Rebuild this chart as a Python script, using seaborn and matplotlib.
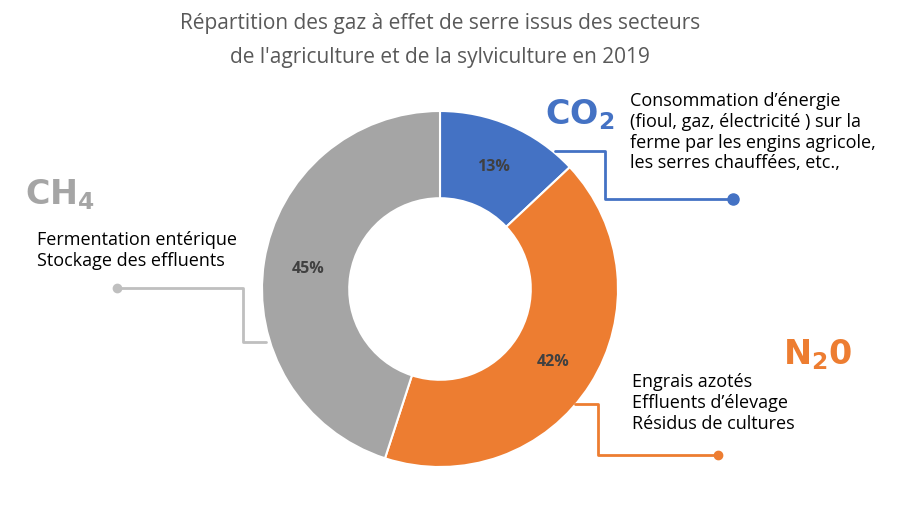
import matplotlib
matplotlib.use("Agg")
import matplotlib.pyplot as plt
import seaborn as sns
import numpy as np
from matplotlib.lines import Line2D

gases = ["CO2", "N2O", "CH4"]
shares = [13, 42, 45]
colors = ["#4472C4", "#ED7D31", "#A5A5A5"]

sns.set_theme(style="white")
plt.rcParams['font.family'] = ['Open Sans', 'DejaVu Sans']

W, H = 900, 506
fig = plt.figure(figsize=(9, 5.06), dpi=100)

def fx(x):
    return x / W

def fy(y):
    return 1 - y / H

# donut
cx, cy, r = 440, 290, 178
ax = fig.add_axes([fx(cx - r), fy(cy + r), 2 * r / W, 2 * r / H])
wedges, texts = ax.pie(shares, colors=colors, startangle=90, counterclock=False, radius=1,
                       wedgeprops=dict(width=0.49, edgecolor="white", linewidth=1.5))
ax.set_xlim(-1, 1)
ax.set_ylim(-1, 1)
ax.set_aspect("equal")
ax.axis("off")
ang = 90.0
for s in shares:
    mid = np.deg2rad(ang - s * 3.6 / 2)
    ax.text(0.75 * np.cos(mid), 0.75 * np.sin(mid), f"{s}%", ha="center", va="center",
            fontsize=11.5, fontweight="bold", color="#404040")
    ang -= s * 3.6

fig.text(fx(440), fy(24), "Répartition des gaz à effet de serre issus des secteurs",
         ha="center", va="center", fontsize=15, color="#595959")
fig.text(fx(440), fy(57), "de l'agriculture et de la sylviculture en 2019",
         ha="center", va="center", fontsize=15, color="#595959")

def path(pts, color):
    xs = [fx(p[0]) for p in pts]
    ys = [fy(p[1]) for p in pts]
    fig.add_artist(Line2D(xs, ys, color=color, lw=2, transform=fig.transFigure))

path([(555, 152), (605, 152), (605, 200), (733, 200)], colors[0])
fig.add_artist(Line2D([fx(733)], [fy(200)], marker="o", ms=8, color=colors[0], transform=fig.transFigure))
path([(575, 405), (598, 405), (598, 456), (718, 456)], colors[1])
fig.add_artist(Line2D([fx(718)], [fy(456)], marker="o", ms=6, color=colors[1], transform=fig.transFigure))
path([(117, 289), (243, 289), (243, 343), (266, 343)], "#BFBFBF")
fig.add_artist(Line2D([fx(117)], [fy(289)], marker="o", ms=6, color="#BFBFBF", transform=fig.transFigure))

fig.text(fx(545), fy(115), r"$\mathbf{CO_2}$", fontsize=24, color=colors[0], va="center", ha="left")
fig.text(fx(783), fy(355), r"$\mathbf{N_20}$", fontsize=24, color=colors[1], va="center", ha="left")
fig.text(fx(25), fy(195), r"$\mathbf{CH_4}$", fontsize=24, color=colors[2], va="center", ha="left")

fig.text(fx(630), fy(92), "Consommation d’énergie\n(fioul, gaz, électricité ) sur la\nferme par les engins agricole,\nles serres chauffées, etc.,",
         fontsize=13, color="black", va="top", ha="left", linespacing=1.2)
fig.text(fx(632), fy(373), "Engrais azotés\nEffluents d’élevage\nRésidus de cultures",
         fontsize=13, color="black", va="top", ha="left", linespacing=1.2)
fig.text(fx(37), fy(231), "Fermentation entérique\nStockage des effluents",
         fontsize=13, color="black", va="top", ha="left", linespacing=1.2)

fig.savefig("out.png", dpi=100, facecolor="white")
